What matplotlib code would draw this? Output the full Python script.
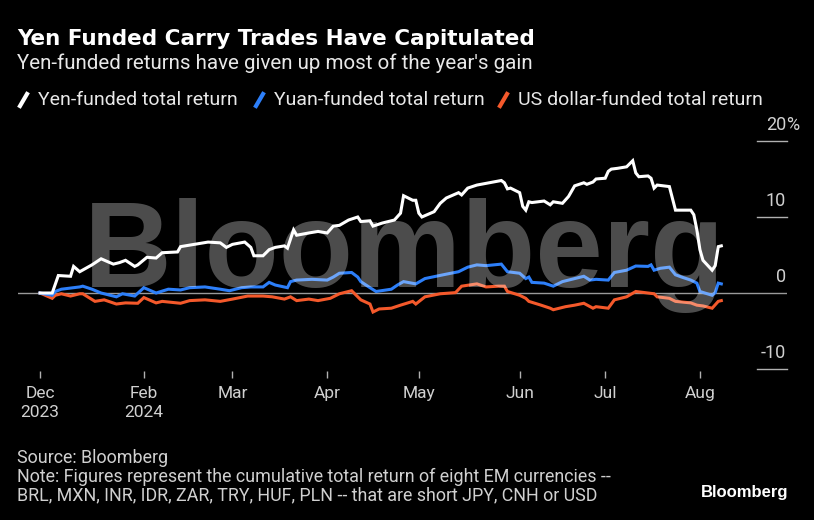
import pandas as pd
import matplotlib
matplotlib.use("Agg")
import matplotlib.pyplot as plt
from matplotlib.lines import Line2D
from matplotlib import transforms

# ---- data ----
yen_dates = ["2023-12-29", "2024-01-02", "2024-01-04", "2024-01-08", "2024-01-09", "2024-01-11",
             "2024-01-15", "2024-01-18", "2024-01-22", "2024-01-24", "2024-01-26", "2024-01-29",
             "2024-01-30", "2024-02-02", "2024-02-05", "2024-02-07", "2024-02-12", "2024-02-13",
             "2024-02-16", "2024-02-22", "2024-02-26", "2024-02-28", "2024-03-01", "2024-03-05",
             "2024-03-07", "2024-03-08", "2024-03-11", "2024-03-13", "2024-03-15", "2024-03-18",
             "2024-03-19", "2024-03-21", "2024-03-22", "2024-03-26", "2024-03-29", "2024-04-01",
             "2024-04-03", "2024-04-05", "2024-04-08", "2024-04-11", "2024-04-12", "2024-04-15",
             "2024-04-16", "2024-04-19", "2024-04-23", "2024-04-25", "2024-04-26", "2024-04-29",
             "2024-04-30", "2024-05-01", "2024-05-02", "2024-05-06", "2024-05-08", "2024-05-10",
             "2024-05-14", "2024-05-15", "2024-05-17", "2024-05-20", "2024-05-24", "2024-05-28",
             "2024-05-29", "2024-05-30", "2024-05-31", "2024-06-03", "2024-06-04", "2024-06-05",
             "2024-06-06", "2024-06-07", "2024-06-11", "2024-06-13", "2024-06-14", "2024-06-17",
             "2024-06-19", "2024-06-21", "2024-06-24", "2024-06-25", "2024-06-27", "2024-06-28",
             "2024-07-01", "2024-07-02", "2024-07-03", "2024-07-05", "2024-07-08", "2024-07-10",
             "2024-07-11", "2024-07-12", "2024-07-15", "2024-07-16", "2024-07-17", "2024-07-18",
             "2024-07-22", "2024-07-24", "2024-07-29", "2024-07-30", "2024-07-31", "2024-08-01",
             "2024-08-02", "2024-08-05", "2024-08-06", "2024-08-07", "2024-08-08"]
yen_vals = [0.0, 0.0, 2.3, 2.2, 3.5, 2.8,
            3.7, 4.5, 3.8, 4.0, 4.3, 3.5,
            3.7, 4.7, 4.6, 5.3, 5.4, 6.1,
            6.3, 6.7, 6.6, 6.0, 6.4, 6.7,
            6.0, 4.9, 4.9, 5.7, 6.0, 6.2,
            5.9, 8.3, 7.6, 7.9, 8.1, 7.9,
            8.8, 8.9, 9.6, 10.0, 9.4, 9.5,
            8.8, 9.2, 9.6, 10.5, 12.8, 12.2,
            12.2, 10.5, 10.0, 10.7, 11.8, 12.5,
            13.2, 12.9, 13.8, 14.2, 14.5, 14.8,
            14.5, 13.7, 13.8, 13.2, 11.4, 10.9,
            12.0, 11.9, 12.1, 11.6, 12.0, 11.8,
            12.7, 14.1, 14.5, 14.3, 14.6, 15.0,
            15.1, 16.0, 16.3, 16.4, 16.6, 17.4,
            15.8, 15.3, 15.4, 15.1, 13.8, 14.2,
            14.0, 10.9, 10.9, 10.3, 8.3, 5.7,
            4.3, 3.0, 3.6, 6.1, 6.2]

yuan_dates = ["2023-12-29", "2024-01-02", "2024-01-03", "2024-01-05", "2024-01-11", "2024-01-12",
              "2024-01-15", "2024-01-18", "2024-01-23", "2024-01-25", "2024-01-29", "2024-02-01",
              "2024-02-05", "2024-02-09", "2024-02-13", "2024-02-16", "2024-02-21", "2024-02-26",
              "2024-02-29", "2024-03-04", "2024-03-07", "2024-03-11", "2024-03-13", "2024-03-15",
              "2024-03-19", "2024-03-20", "2024-03-22", "2024-03-27", "2024-04-01", "2024-04-03",
              "2024-04-05", "2024-04-09", "2024-04-11", "2024-04-12", "2024-04-15", "2024-04-17",
              "2024-04-22", "2024-04-24", "2024-04-26", "2024-04-30", "2024-05-03", "2024-05-09",
              "2024-05-14", "2024-05-17", "2024-05-20", "2024-05-23", "2024-05-28", "2024-05-30",
              "2024-06-03", "2024-06-05", "2024-06-06", "2024-06-07", "2024-06-11", "2024-06-14",
              "2024-06-17", "2024-06-20", "2024-06-24", "2024-06-26", "2024-06-28", "2024-07-02",
              "2024-07-04", "2024-07-08", "2024-07-11", "2024-07-15", "2024-07-16", "2024-07-17",
              "2024-07-19", "2024-07-22", "2024-07-24", "2024-07-26", "2024-07-29", "2024-07-31",
              "2024-08-01", "2024-08-05", "2024-08-06", "2024-08-07", "2024-08-08"]
yuan_vals = [0.0, -0.3, 0.2, 0.5, 0.8, 0.9,
             0.5, 0.0, -0.5, -0.1, -0.4, 0.7,
             0.0, 0.5, 0.4, 0.7, 0.8, 0.5,
             0.3, 0.7, 0.8, 0.8, 1.4, 1.05,
             0.7, 1.5, 1.7, 1.8, 1.7, 2.1,
             2.6, 2.7, 2.1, 1.5, 0.7, 0.2,
             0.5, 1.05, 1.5, 1.2, 1.9, 2.4,
             2.8, 3.4, 3.7, 3.6, 3.8, 2.8,
             2.6, 1.9, 2.1, 1.4, 1.3, 0.9,
             1.5, 1.8, 2.2, 1.7, 1.8, 1.7,
             2.7, 3.0, 3.55, 3.5, 3.7, 3.0,
             3.25, 3.4, 2.4, 2.1, 1.7, 1.3,
             0.2, -0.3, 0.05, 1.3, 1.2]

usd_dates = ["2023-12-29", "2024-01-02", "2024-01-03", "2024-01-05", "2024-01-08", "2024-01-11",
             "2024-01-12", "2024-01-16", "2024-01-19", "2024-01-23", "2024-01-26", "2024-01-30",
             "2024-02-01", "2024-02-05", "2024-02-07", "2024-02-13", "2024-02-16", "2024-02-21",
             "2024-02-26", "2024-03-01", "2024-03-06", "2024-03-11", "2024-03-14", "2024-03-18",
             "2024-03-20", "2024-03-22", "2024-03-26", "2024-03-29", "2024-04-02", "2024-04-05",
             "2024-04-09", "2024-04-11", "2024-04-12", "2024-04-15", "2024-04-16", "2024-04-18",
             "2024-04-22", "2024-04-25", "2024-04-29", "2024-04-30", "2024-05-03", "2024-05-08",
             "2024-05-13", "2024-05-15", "2024-05-20", "2024-05-23", "2024-05-27", "2024-05-29",
             "2024-05-30", "2024-06-03", "2024-06-05", "2024-06-06", "2024-06-10", "2024-06-13",
             "2024-06-14", "2024-06-18", "2024-06-21", "2024-06-24", "2024-06-27", "2024-06-28",
             "2024-07-02", "2024-07-04", "2024-07-08", "2024-07-11", "2024-07-15", "2024-07-17",
             "2024-07-18", "2024-07-22", "2024-07-24", "2024-07-29", "2024-07-31", "2024-08-02",
             "2024-08-05", "2024-08-07", "2024-08-08"]
usd_vals = [0.0, -0.7, -0.3, -0.1, -0.4, -0.1,
            -0.1, -1.1, -0.9, -1.45, -1.3, -1.35,
            -0.6, -1.3, -1.1, -1.35, -1.0, -0.9,
            -1.1, -0.8, -0.4, -0.4, -0.5, -0.8,
            -0.5, -1.0, -0.8, -1.0, -0.7, -0.1,
            0.3, -0.5, -0.9, -1.45, -2.5, -2.1,
            -2.0, -1.6, -1.1, -1.45, -0.5, -0.1,
            0.05, 0.9, 1.2, 0.8, 0.9, 0.9,
            0.2, -0.3, -0.7, -1.1, -1.6, -2.0,
            -2.2, -1.8, -1.6, -1.35, -2.0, -1.8,
            -2.0, -0.9, -0.5, 0.2, 0.0, -0.1,
            -0.5, -0.7, -1.1, -1.3, -1.6, -1.7,
            -2.0, -1.1, -1.0]

series_names = ["Yen-funded total return", "Yuan-funded total return", "US dollar-funded total return"]
series_colors = ["#ffffff", "#2d7ff9", "#f4592b"]

tick_dates = ["2023-12-29", "2024-02-01", "2024-03-01", "2024-04-01",
              "2024-05-01", "2024-06-03", "2024-07-01", "2024-08-01"]
tick_labels = ["Dec\n2023", "Feb\n2024", "Mar", "Apr", "May", "Jun", "Jul", "Aug"]
y_ticks = [20, 10, 0, -10]
y_labels = ["20", "10", "0", "-10"]

W, H = 814, 520
NARROW = "Roboto"


def fx(x):
    return x / W


def fy(y):
    return 1 - y / H


fig = plt.figure(figsize=(W / 100, H / 100), dpi=100, facecolor="black")
# axes: pixel 18..787 horizontally, 139..371 vertically
ax = fig.add_axes([fx(18), fy(371), fx(787 - 18), (371 - 139) / H])
ax.set_facecolor("black")
for s in ax.spines.values():
    s.set_visible(False)

start = pd.Timestamp("2023-12-29")
ax.set_xlim(start - pd.Timedelta(days=7.2), start + pd.Timedelta(days=244.5))
ax.set_ylim(-10.26, 20.26)

# zero line across the plot, short grid stubs at right for the others
ax.axhline(0, color="#9a9a9a", lw=1.0, zorder=1)
ytr = ax.get_yaxis_transform()
lab_tr = transforms.offset_copy(ytr, fig=fig, x=-1, y=11, units="dots")
for v, lab in zip(y_ticks, y_labels):
    if v != 0:
        ax.plot([0.961, 1.0], [v, v], color="#b0b0b0", lw=1.0, transform=ytr, clip_on=False)
    ax.text(1.0, v, lab, transform=lab_tr, ha="right", va="baseline",
            color="#d0d0d0", fontsize=13, family=NARROW)
ax.text(1.0, y_ticks[0], "%", transform=lab_tr, ha="left", va="baseline",
        color="#d0d0d0", fontsize=13, family=NARROW)

for dates, vals, c in [(yen_dates, yen_vals, series_colors[0]),
                       (yuan_dates, yuan_vals, series_colors[1]),
                       (usd_dates, usd_vals, series_colors[2])][::-1]:
    ax.plot(pd.to_datetime(dates), vals, color=c, lw=2.2, solid_joinstyle="miter", zorder=3)

ax.set_yticks([])
ax.set_xticks(pd.to_datetime(tick_dates))
ax.set_xticklabels(tick_labels, family=NARROW, fontsize=12.5, color="#d0d0d0", linespacing=1.35)
ax.tick_params(axis="x", direction="out", length=5, width=1, color="#b0b0b0", pad=6)

# watermark
fig.text(fx(84), fy(287), "Bloomberg", family="Liberation Sans", fontweight="bold",
         fontsize=87.5, color="white", alpha=0.3, ha="left", va="baseline", zorder=5)

# titles
fig.text(fx(17), fy(45), "Yen Funded Carry Trades Have Capitulated", color="white",
         fontsize=15.5, fontweight="bold", ha="left", va="baseline")
fig.text(fx(17), fy(69), "Yen-funded returns have given up most of the year's gain",
         color="#e8e8e8", fontsize=14.8, family=NARROW, ha="left", va="baseline")

# legend
leg_x = [(20, 38), (256, 274), (500, 518)]
for (sx, tx), name, c in zip(leg_x, series_names, series_colors):
    fig.add_artist(Line2D([fx(sx), fx(sx + 7)], [fy(106), fy(94)], color=c, lw=3,
                          transform=fig.transFigure))
    fig.text(fx(tx), fy(105), name, color="#e8e8e8", fontsize=14, family=NARROW,
             ha="left", va="baseline")

# footnotes
notes = ["Source: Bloomberg",
         "Note: Figures represent the cumulative total return of eight EM currencies --",
         "BRL, MXN, INR, IDR, ZAR, TRY, HUF, PLN -- that are short JPY, CNH or USD"]
for yb, line in zip([463, 482, 500], notes):
    fig.text(fx(17), fy(yb), line, color="#d0d0d0", fontsize=12.9,
             family=NARROW, ha="left", va="baseline")
fig.text(fx(788), fy(497), "Bloomberg", color="white", fontsize=12, fontweight="bold",
         family="Liberation Sans", ha="right", va="baseline")

fig.savefig("out.png", dpi=100, facecolor="black")
